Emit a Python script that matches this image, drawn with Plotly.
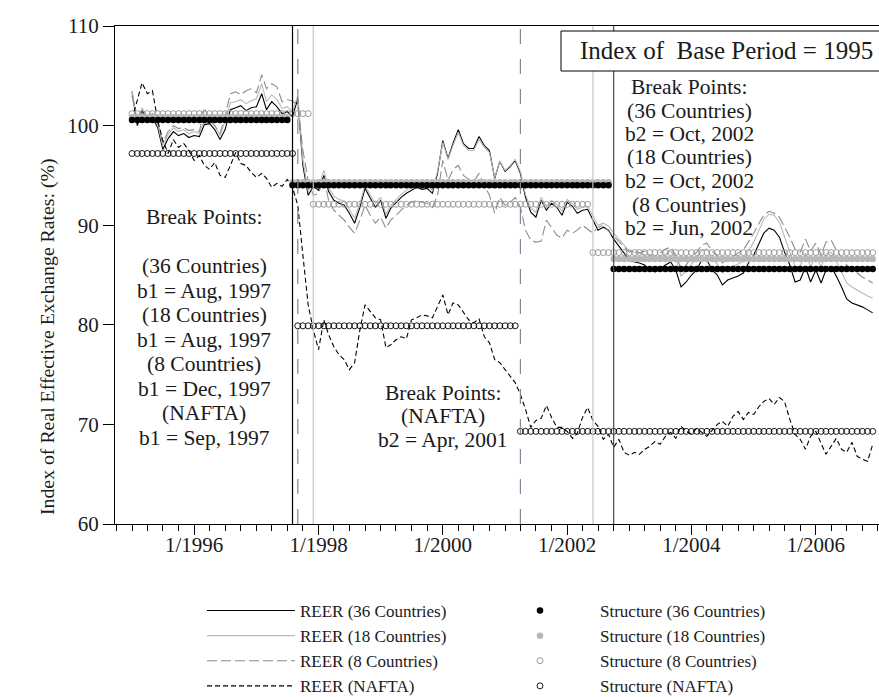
import plotly.graph_objects as go
import pandas as pd

# ---------------- data ----------------
months = pd.date_range("1995-01-01", "2006-12-01", freq="MS")

reer36 = [103.4, 100.0, 101.5, 100.6, 100.8, 99.8, 97.6, 98.7, 99.4, 99.0,
          99.2, 98.8, 99.0, 98.9, 100.1, 100.2, 99.6, 98.6, 99.6, 101.6,
          101.8, 102.0, 101.5, 101.8, 101.9, 103.2, 101.6, 102.4, 101.9, 101.2,
          101.4, 100.9, 102.7, 96.0, 93.0, 93.9, 93.5, 95.0, 93.4, 92.5,
          92.2, 92.0, 91.2, 90.2, 91.8, 93.7, 92.7, 91.8, 92.5, 90.7,
          91.7, 92.3, 92.8, 93.2, 93.5, 93.8, 93.6, 93.7, 93.2, 95.2,
          98.5, 96.7, 98.2, 99.6, 98.2, 97.7, 97.7, 98.9, 98.0, 97.5,
          94.7, 96.4, 95.4, 95.9, 96.5, 95.2, 92.8, 91.3, 90.8, 92.5,
          91.5, 92.2, 91.8, 91.0, 92.3, 91.9, 91.2, 91.5, 91.6, 90.5,
          89.5, 89.8, 89.5, 88.6, 87.9, 87.3, 86.5, 86.3, 86.2, 86.0,
          85.5, 85.3, 85.6, 86.0, 86.3, 85.5, 83.8, 84.3, 85.0, 85.5,
          86.5, 86.5, 85.5, 85.0, 84.0, 84.5, 84.7, 84.9, 85.2, 86.2,
          87.0, 88.2, 89.2, 89.7, 89.5, 88.8, 87.3, 86.0, 84.3, 84.5,
          85.8, 84.3, 85.5, 84.2, 85.5, 85.8, 84.9, 83.8, 82.6, 82.2,
          82.0, 81.8, 81.5, 81.2]

reer18 = [103.5, 100.3, 101.8, 100.9, 101.1, 100.1, 98.0, 99.1, 99.8, 99.4,
          99.6, 99.2, 99.4, 99.2, 100.6, 100.5, 100.0, 99.0, 100.5, 102.3,
          102.4, 102.6, 102.2, 102.5, 102.7, 104.2, 102.4, 103.1, 102.6, 101.7,
          101.9, 101.4, 103.0, 96.5, 93.4, 94.3, 93.9, 95.5, 93.8, 92.9,
          92.6, 92.4, 91.6, 90.7, 92.2, 94.0, 93.0, 92.2, 92.8, 91.1,
          92.0, 92.6, 93.1, 93.5, 93.8, 94.1, 93.9, 94.0, 93.5, 95.4,
          98.3, 96.6, 98.0, 99.3, 98.0, 97.5, 97.5, 98.6, 97.8, 97.3,
          94.8, 96.4, 95.5, 96.0, 96.6, 95.4, 93.1, 91.7, 91.3, 92.8,
          91.9, 92.5, 92.1, 91.4, 92.6, 92.2, 91.6, 91.8, 91.9, 90.9,
          90.0, 90.2, 89.9, 89.2, 88.6, 88.1, 87.4, 87.3, 87.2, 87.0,
          86.6, 86.4, 86.7, 87.1, 87.4, 86.6, 84.9, 85.4, 86.1, 86.6,
          87.5, 87.6, 86.6, 86.1, 85.2, 85.6, 85.9, 86.1, 86.4, 87.4,
          88.3, 89.5, 90.6, 91.1, 91.0, 90.3, 88.8, 87.4, 85.8, 85.9,
          87.2, 85.8, 87.0, 85.8, 87.1, 87.3, 86.4, 85.3, 84.2, 83.8,
          83.5, 83.2, 82.9, 82.7]

reer8 = [103.0, 100.5, 101.3, 100.8, 101.2, 100.3, 98.3, 99.4, 100.0, 99.7,
         99.8, 99.5, 99.6, 99.4, 101.8, 100.5, 100.0, 99.2, 101.0, 103.2,
         103.4, 103.1, 103.5, 103.7, 103.3, 105.1, 103.7, 104.2, 103.9, 102.4,
         102.6, 102.5, 102.0, 97.5, 94.5, 93.0, 93.2, 94.8, 92.5, 91.5,
         91.0, 90.5, 89.8, 89.2, 90.5, 92.0, 91.0, 90.2, 90.8, 89.7,
         90.5, 91.0, 91.5, 92.0, 92.3, 92.5, 92.3, 92.2, 91.8, 93.0,
         96.5, 94.5, 95.6, 96.0, 95.0, 94.6, 94.4, 95.2, 94.0, 93.0,
         91.2, 92.8, 92.0, 92.3, 92.8, 91.8, 89.5, 88.5, 88.3, 88.4,
         90.5, 89.8, 89.0, 88.7, 89.5, 89.2, 89.5, 90.0, 89.6, 89.2,
         89.8, 90.0, 89.4, 88.9, 88.3, 87.8, 87.3, 87.5, 87.2, 87.4,
         87.0, 86.8, 87.2, 87.6, 87.8, 87.0, 85.6, 86.0, 86.8, 87.3,
         88.0, 88.2, 87.4, 87.0, 86.2, 86.6, 86.8, 87.2, 87.5, 88.3,
         89.2, 90.2, 91.0, 91.4, 91.2, 90.8, 89.8, 88.8, 87.6, 87.3,
         88.6, 87.4, 88.2, 87.0, 88.3, 88.5, 87.5, 86.8, 86.0, 85.6,
         85.2, 84.8, 84.5, 84.2]

reer_nafta = [100.6, 102.5, 104.3, 103.2, 103.5, 100.5, 98.5, 97.2, 98.6, 97.8,
              98.2, 97.5, 96.5, 97.0, 96.0, 95.6, 96.3, 95.0, 94.8, 96.0,
              97.3, 96.2, 96.0, 95.3, 94.8, 95.2, 94.7, 93.8, 94.2, 93.9,
              94.6, 93.8, 92.0, 87.0, 82.0, 79.5, 77.5, 80.5, 79.0, 77.8,
              77.0, 76.5, 75.5, 76.2, 79.5, 82.0, 81.3, 80.7, 80.5, 77.7,
              78.0, 78.5, 78.8, 78.6, 80.5, 80.7, 81.0, 80.9, 80.7, 81.8,
              83.0, 81.0, 82.2, 82.0, 81.3, 80.5, 80.2, 80.6, 78.8, 78.2,
              76.5, 76.2, 75.5, 74.8, 74.2, 73.0, 71.5, 69.7, 70.4, 70.6,
              71.9, 70.7, 69.7, 69.7, 69.3, 68.6, 69.1, 70.7, 71.7, 70.4,
              69.8, 68.5, 69.0, 67.7, 68.5, 67.2, 66.9, 67.2, 67.0, 67.5,
              67.8, 68.3, 68.0, 68.8, 69.2, 68.6, 69.8, 69.3, 69.0, 69.6,
              69.2, 68.8, 69.4, 70.0, 70.3, 69.8, 70.8, 71.3, 70.5, 71.2,
              71.0, 71.8, 72.3, 72.6, 72.0, 72.7, 72.3, 70.5, 69.0, 68.5,
              67.5, 68.8, 69.3, 68.0, 67.0, 67.8, 68.6, 67.5, 67.2, 68.2,
              66.8, 66.5, 66.3, 68.0]

# structural-break segment means (start month, end month, mean)
seg_start36 = ["1995-01", "1997-08", "2002-10"]
seg_end36 = ["1997-07", "2002-09", "2006-12"]
seg_mean36 = [100.55, 94.0, 85.6]

seg_start18 = ["1995-01", "1997-08", "2002-10"]
seg_end18 = ["1997-07", "2002-09", "2006-12"]
seg_mean18 = [100.85, 94.3, 86.6]

seg_start8 = ["1995-01", "1997-12", "2002-06"]
seg_end8 = ["1997-11", "2002-05", "2006-12"]
seg_mean8 = [101.2, 92.1, 87.25]

seg_startN = ["1995-01", "1997-09", "2001-04"]
seg_endN = ["1997-08", "2001-03", "2006-12"]
seg_meanN = [97.2, 79.9, 69.3]

break_dates = ["1997-08-01", "1997-09-01", "1997-12-01", "2001-04-01", "2002-06-01", "2002-10-01"]
break_colors = ["#000000", "#7e8898", "#c8c8c8", "#7e8898", "#c8c8c8", "#4a4a4a"]
break_dashes = ["solid", "longdash", "solid", "longdash", "solid", "solid"]

y_ticks = [60, 70, 80, 90, 100, 110]

FONT = "Liberation Serif, Times New Roman, serif"


def expand(starts, ends, means):
    xs, ys = [], []
    for s, e, m in zip(starts, ends, means):
        rng = pd.date_range(s + "-01", e + "-01", freq="MS")
        xs.extend(rng)
        ys.extend([m] * len(rng))
    return xs, ys


fig = go.Figure()

line_specs = [
    ("REER (36 Countries)", reer36, "#000000", "solid"),
    ("REER (18 Countries)", reer18, "#b9b9b9", "solid"),
    ("REER (8 Countries)", reer8, "#8c8c8c", "10px,4px"),
    ("REER (NAFTA)", reer_nafta, "#000000", "5px,3px"),
]
for k, (name, vals, col, dash) in enumerate(line_specs):
    fig.add_trace(go.Scatter(x=months, y=vals, mode="lines", name=name,
                             line=dict(color=col, width=1.1, dash=dash),
                             legend="legend", legendrank=k + 1))

struct_specs = [
    ("Structure (36 Countries)", (seg_start36, seg_end36, seg_mean36),
     dict(symbol="circle", size=6.5, color="#000000")),
    ("Structure (18 Countries)", (seg_start18, seg_end18, seg_mean18),
     dict(symbol="circle", size=6.5, color="#b8b8b8")),
    ("Structure (8 Countries)", (seg_start8, seg_end8, seg_mean8),
     dict(symbol="circle-open", size=6, color="#9a9a9a", line=dict(width=1))),
    ("Structure (NAFTA)", (seg_startN, seg_endN, seg_meanN),
     dict(symbol="circle-open", size=6, color="#000000", line=dict(width=0.9))),
]
draw_order = [2, 1, 0, 3]
for i in draw_order:
    name, segs, mk = struct_specs[i]
    xs, ys = expand(*segs)
    fig.add_trace(go.Scatter(x=xs, y=ys, mode="markers", name=name, marker=mk,
                             legend="legend2", legendrank=i + 1))

# break point vertical lines
for d, c, ds in zip(break_dates, break_colors, break_dashes):
    fig.add_shape(type="line", xref="x", yref="paper", x0=d, x1=d, y0=0, y1=1,
                  line=dict(color=c, width=1.2, dash=ds), layer="above")

# pixel helpers for layout placement
L, R, T, B = 115, 879, 26, 524


def pxx(v):
    return (v - L) / (R - L)


def pxy(v):
    return (B - v) / (B - T)


# boxed base-period label
fig.add_shape(type="rect", xref="paper", yref="paper",
              x0=pxx(561), x1=pxx(895), y0=pxy(71), y1=pxy(31),
              line=dict(color="#000000", width=1), fillcolor="white", layer="above")

annos = []
annos.append(dict(text="Index of  Base Period = 1995", x=pxx(726), y=pxy(50), size=25))

left_lines = ["Break Points:", "", "(36 Countries)", "b1 = Aug, 1997", "(18 Countries)",
              "b1 = Aug, 1997", "(8 Countries)", "b1 = Dec, 1997", "(NAFTA)", "b1 = Sep, 1997"]
for i, t in enumerate(left_lines):
    if t:
        annos.append(dict(text=t, x=pxx(204), y=pxy(217 + 24.5 * i), size=21.5))

mid_lines = ["Break Points:", "(NAFTA)", "b2 = Apr, 2001"]
for i, t in enumerate(mid_lines):
    annos.append(dict(text=t, x=pxx(443), y=pxy(393 + 23.3 * i), size=21.5))

right_lines = ["Break Points:", "(36 Countries)", "b2 = Oct, 2002", "(18 Countries)",
               "b2 = Oct, 2002", "(8 Countries)", "b2 = Jun, 2002"]
for i, t in enumerate(right_lines):
    annos.append(dict(text=t, x=pxx(689), y=pxy(87 + 23.5 * i), size=21.5))

for a in annos:
    fig.add_annotation(text=a["text"], x=a["x"], y=a["y"], xref="paper", yref="paper",
                       xanchor="center", yanchor="middle", showarrow=False,
                       font=dict(family=FONT, size=a["size"], color="#1a1a1a"))

fig.add_annotation(text="Index of Real Effective Exchange Rates: (%)", x=pxx(47), y=pxy(337),
                   xref="paper", yref="paper", xanchor="center", yanchor="middle",
                   showarrow=False, textangle=-90,
                   font=dict(family=FONT, size=19.8, color="#1a1a1a"))

fig.update_layout(
    width=879, height=697,
    margin=dict(l=L, r=0, t=T, b=697 - B, pad=0, autoexpand=False),
    paper_bgcolor="white", plot_bgcolor="white",
    font=dict(family=FONT, color="#1a1a1a"),
    xaxis=dict(type="date", range=["1994-09-23", "2007-01-07"],
               tick0="1996-01-01", dtick="M24", tickformat="%-m/%Y",
               ticks="outside", ticklen=10, tickwidth=1, tickcolor="#000",
               ticklabelstandoff=-8,
               showline=True, linecolor="#000", linewidth=1, mirror=True,
               showgrid=False, zeroline=False,
               tickfont=dict(family=FONT, size=21, color="#1a1a1a"),
               minor=dict(dtick="M3", tick0="1995-01-01", ticks="outside", ticklen=6,
                          tickwidth=1, tickcolor="#000", showgrid=False)),
    yaxis=dict(range=[60, 110], tickvals=y_ticks, ticks="outside", ticklen=11,
               tickwidth=1, tickcolor="#000", showline=True, linecolor="#000",
               linewidth=1, showgrid=False, zeroline=False,
               tickfont=dict(family=FONT, size=21, color="#1a1a1a")),
    legend=dict(x=pxx(202), y=pxy(593), xanchor="left", yanchor="top",
                bgcolor="rgba(0,0,0,0)", borderwidth=0, itemwidth=88,
                font=dict(family=FONT, size=17, color="#1a1a1a")),
    legend2=dict(x=pxx(480), y=pxy(593), xanchor="left", yanchor="top",
                 bgcolor="rgba(0,0,0,0)", borderwidth=0, itemwidth=110,
                 font=dict(family=FONT, size=17, color="#1a1a1a")),
    showlegend=True,
)

fig.write_html("out.html")
